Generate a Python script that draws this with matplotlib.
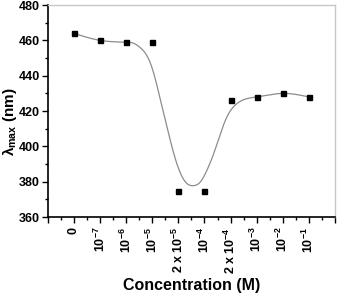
import numpy as np
import matplotlib
matplotlib.use('Agg')
from matplotlib import pyplot as plt
from matplotlib.ticker import MultipleLocator, FixedLocator

plt.rcParams['font.family'] = ['Liberation Sans', 'DejaVu Sans']
plt.rcParams['font.weight'] = 'bold'
plt.rcParams['mathtext.fontset'] = 'custom'
plt.rcParams['mathtext.rm'] = 'Liberation Sans:bold'
plt.rcParams['mathtext.it'] = 'Liberation Sans:bold'
plt.rcParams['mathtext.bf'] = 'Liberation Sans:bold'

# data
conc_labels = ['0', r'10$^{-7}$', r'10$^{-6}$', r'10$^{-5}$', r'2 x 10$^{-5}$',
               r'10$^{-4}$', r'2 x 10$^{-4}$', r'10$^{-3}$', r'10$^{-2}$', r'10$^{-1}$']
conc_pos = np.arange(1, 11)
lambda_max = [464, 460, 459, 459, 375, 375, 426, 428, 430, 428]

# fitted curve knots
fit_x = [1, 2, 3, 3.28, 3.54, 3.8, 4.05, 4.31, 4.56, 4.82, 5.08, 5.33, 5.59,
         5.85, 6.1, 6.36, 6.62, 6.87, 7.13, 7.38, 7.77, 8, 9, 10]
fit_y = [464, 460, 459, 458.4, 455.9, 451.2, 441.7, 426.5, 411.3, 396.2, 384.8,
         379, 377.8, 380, 386.7, 396.2, 407.6, 417, 422.7, 425.6, 427.5, 428, 430, 428]


def smooth(xk, yk, n=500):
    # natural cubic spline through the knots
    xk = np.asarray(xk, float)
    yk = np.asarray(yk, float)
    m = len(xk)
    h = np.diff(xk)
    A = np.zeros((m, m))
    b = np.zeros(m)
    A[0, 0] = A[-1, -1] = 1
    for i in range(1, m - 1):
        A[i, i - 1] = h[i - 1]
        A[i, i] = 2 * (h[i - 1] + h[i])
        A[i, i + 1] = h[i]
        b[i] = 6 * ((yk[i + 1] - yk[i]) / h[i] - (yk[i] - yk[i - 1]) / h[i - 1])
    M = np.linalg.solve(A, b)
    xs = np.linspace(xk[0], xk[-1], n)
    idx = np.clip(np.searchsorted(xk, xs) - 1, 0, m - 2)
    x0, x1 = xk[idx], xk[idx + 1]
    hh = x1 - x0
    t0, t1 = x1 - xs, xs - x0
    ys = (M[idx] * t0 ** 3 + M[idx + 1] * t1 ** 3) / (6 * hh) \
        + (yk[idx] / hh - M[idx] * hh / 6) * t0 \
        + (yk[idx + 1] / hh - M[idx + 1] * hh / 6) * t1
    return xs, ys


fig = plt.figure(figsize=(3.37, 2.97), dpi=100)
ax = fig.add_axes([0.142, 0.269, 0.852, 0.714])

xs, ys = smooth(fit_x, fit_y)
ax.plot(xs, ys, color='#8c8c8c', linewidth=0.9)
ax.plot(conc_pos, lambda_max, linestyle='none', marker='s', markersize=3.6,
        color='black')

ax.set_xlim(0, 11)
ax.set_ylim(360, 480)
ax.xaxis.set_major_locator(FixedLocator(np.arange(0, 12)))
ax.xaxis.set_minor_locator(MultipleLocator(0.5))
ax.set_xticklabels([''] + conc_labels + [''], rotation=90, fontsize=9)
ax.yaxis.set_major_locator(MultipleLocator(20))
ax.yaxis.set_minor_locator(MultipleLocator(10))

ax.tick_params(which='major', length=4, width=1, pad=2)
ax.tick_params(axis='y', labelsize=9)
ax.tick_params(which='minor', length=2, width=1)
ax.tick_params(axis='x', which='major', pad=3)
for s in ['left', 'bottom']:
    ax.spines[s].set_linewidth(1.2)
for s in ['top', 'right']:
    ax.spines[s].set_color('#c8c8c8')
    ax.spines[s].set_linewidth(1)

ax.set_xlabel('Concentration (M)', fontsize=11.5, fontweight='bold')
ax.xaxis.set_label_coords(0.5, -0.285)
ax.set_ylabel(r'$\lambda_{max}$ (nm)', fontsize=11, fontweight='bold')
ax.yaxis.set_label_coords(-0.1, 0.45)

plt.savefig('out.png', dpi=100)
